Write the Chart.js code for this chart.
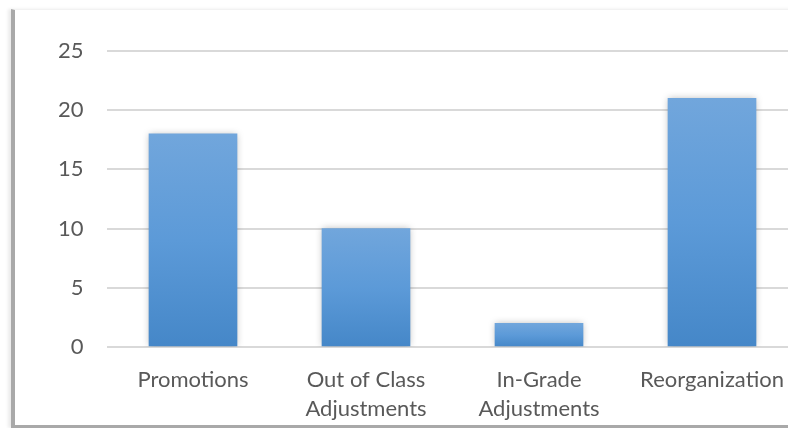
<!DOCTYPE html>
<html>
<head>
<meta charset="utf-8">
<script src="https://cdn.jsdelivr.net/npm/chart.js@4"></script>
<style>
  html, body { margin: 0; padding: 0; background: #fff; overflow: hidden; }
  #frame {
    position: absolute; left: 11px; top: 9px; width: 800px; height: 415px;
    border-left: 4px solid #a9a9a9; border-bottom: 3px solid #a9a9a9;
    border-top: 1px solid #f2f2f2;
    box-shadow: -3px 0 3px rgba(0,0,0,0.08);
  }
  #wrap { position: absolute; left: 0; top: 0; width: 800px; height: 428px; }
</style>
</head>
<body>
<div id="frame"></div>
<div id="wrap"><canvas id="grafico" width="800" height="428"></canvas></div>
<script>
const categorias = ['Promotions', ['Out of Class', 'Adjustments'], ['In-Grade', 'Adjustments'], 'Reorganization'];
const valores = [18, 10, 2, 21];
const ticksY = [0, 5, 10, 15, 20, 25];

const fuente = { family: 'Lato', size: 22, lineHeight: 1.3 };

// degradado por barra, de arriba (claro) a abajo (oscuro)
function colorBarra(context) {
    const chart = context.chart;
    if (!chart.chartArea || !chart.scales.y) return '#5b9bd5';
    const v = context.raw;
    const yTop = chart.scales.y.getPixelForValue(v);
    const yBase = chart.scales.y.getPixelForValue(0);
    const g = chart.ctx.createLinearGradient(0, yTop, 0, yBase);
    g.addColorStop(0, '#71a6dc');
    g.addColorStop(0.5, '#5c9ad8');
    g.addColorStop(1, '#4587c8');
    return g;
}

const sombra = {
    id: 'sombra',
    beforeDatasetDraw(chart) {
        const c = chart.ctx;
        c.save();
        c.shadowColor = 'rgba(0,0,0,0.28)';
        c.shadowBlur = 7;
        c.shadowOffsetX = 0;
        c.shadowOffsetY = 0;
    },
    afterDatasetDraw(chart) {
        chart.ctx.restore();
    }
};

const ctx = document.getElementById('grafico').getContext('2d');
new Chart(ctx, {
    type: 'bar',
    data: {
        labels: categorias,
        datasets: [{
            data: valores,
            backgroundColor: colorBarra,
            barThickness: 88
        }]
    },
    options: {
        responsive: false,
        animation: false,
        layout: { padding: { top: 51, right: 1.5, left: 0, bottom: 0 } },
        plugins: { legend: { display: false }, tooltip: { enabled: false } },
        scales: {
            x: {
                grid: { display: false },
                border: { display: false },
                ticks: { color: '#595959', font: fuente, padding: 11, maxRotation: 0, autoSkip: false },
                afterFit(s) { s.height = 81; }
            },
            y: {
                min: 0,
                max: 25,
                afterBuildTicks(s) { s.ticks = ticksY.map(v => ({ value: v })); },
                grid: { color: '#d9d9d9', lineWidth: 2, drawTicks: false },
                border: { display: false },
                ticks: { color: '#595959', font: fuente, padding: 23 },
                afterFit(s) { s.width = 106.5; }
            }
        }
    },
    plugins: [sombra]
});
</script>
</body>
</html>
